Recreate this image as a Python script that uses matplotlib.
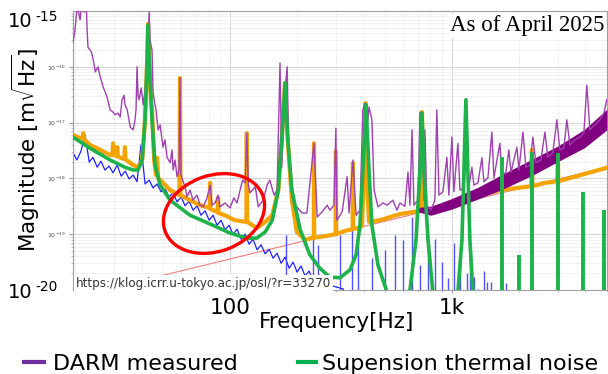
import numpy as np
import matplotlib.pyplot as plt
from matplotlib.patches import Ellipse
from matplotlib.lines import Line2D
from matplotlib.ticker import NullFormatter

# values: frequency [Hz] and log10 of magnitude [m/rtHz]
darm_f = [19.6, 20.0, 20.5, 21.1, 21.5, 22.0, 22.5, 22.7, 22.9, 23.7, 24.2, 24.7, 25.4, 26.0,
          26.8, 27.9, 28.8, 29.7, 30.3, 31.3, 32.0, 32.6, 33.3, 33.6, 34.4, 35.5, 36.6, 37.3,
          37.7, 38.1, 38.5, 38.9, 39.8, 40.6, 41.4, 42.3, 43.2, 43.6, 44.5, 45.0, 45.9, 46.4,
          47.4, 48.4, 49.4, 49.9, 50.9, 52.0, 53.7, 54.8, 55.4, 56.5, 57.7, 58.9, 59.5, 60.1,
          62.7, 64.0, 66.0, 68.1, 71.0, 73.3, 75.6, 78.8, 81.3, 82.9, 85.6, 88.3, 90.1, 94.9,
          100, 104, 107.5, 111, 114, 117, 119, 121, 123, 130, 134, 141, 147, 151, 158, 163,
          168, 171, 177, 181, 184, 190, 196, 200, 211, 222, 239, 247, 260, 274, 282, 294,
          300, 303, 320, 337, 344, 358, 370, 385, 397, 406, 414, 423, 436, 446, 464, 489,
          510, 542, 565, 583, 614, 634, 647, 661, 674, 703, 718, 733, 748, 756, 771, 804,
          838, 855, 874, 911, 949, 969, 1000, 1021, 1064, 1087, 1133, 1169, 1193, 1230,
          1256, 1310, 1365, 1394, 1453, 1514, 1546, 1645, 1680, 1751, 1806, 1845, 1963,
          2004, 2090, 2155, 2249, 2316, 2390, 2518, 2625, 2706, 2850, 2971, 3064, 3195,
          3296, 3400, 3580, 3773, 3933, 4055, 4185, 4406, 4645, 4840, 4990]
darm_exp = [-15.57, -15.34, -14.9, -15.16, -14.8, -15.02, -14.9, -15.34, -15.65, -15.73, -15.88,
            -16.09, -16.00, -16.18, -16.36, -16.54, -16.77, -16.81, -16.86, -16.83, -16.90,
            -16.59, -16.51, -16.68, -16.77, -17.08, -17.13, -16.95, -16.77, -16.00, -16.51,
            -16.59, -16.38, -16.68, -16.42, -16.00, -15.02, -15.52, -15.70, -16.47, -16.68,
            -16.77, -17.13, -17.04, -17.31, -17.44, -17.31, -17.62, -17.72, -17.49, -17.85,
            -17.67, -17.97, -17.85, -16.20, -17.94, -18.15, -18.33, -18.21, -18.39, -18.30,
            -18.48, -18.51, -18.35, -18.12, -18.48, -18.44, -18.30, -18.51, -18.44, -18.53,
            -18.35, -18.44, -18.21, -18.03, -18.08, -17.19, -18.12, -18.26, -18.15, -18.51,
            -18.39, -18.12, -18.03, -18.30, -18.21, -15.93, -17.80, -16.42, -16.00, -17.67,
            -18.30, -18.57, -18.51, -18.62, -18.62, -17.37, -18.69, -18.60, -18.48, -18.57,
            -18.48, -17.10, -18.75, -18.60, -17.97, -18.62, -17.67, -18.66, -18.57, -16.77,
            -16.65, -17.13, -16.72, -16.95, -18.21, -18.51, -18.44, -18.48, -18.39, -18.57,
            -18.44, -18.50, -17.89, -18.48, -17.13, -18.48, -18.39, -16.81, -16.86, -18.39,
            -17.13, -18.48, -18.57, -18.39, -16.77, -18.30, -18.24, -17.62, -18.30, -17.26,
            -18.24, -17.37, -18.21, -18.17, -17.37, -18.15, -17.80, -18.12, -18.08, -17.63,
            -18.06, -17.99, -17.17, -17.99, -17.37, -17.96, -17.89, -17.49, -17.89, -17.44,
            -17.85, -17.17, -17.80, -17.76, -17.26, -17.72, -17.67, -17.17, -17.62, -17.54,
            -16.95, -17.49, -17.46, -16.95, -17.40, -17.31, -17.26, -17.19, -16.33, -17.13,
            -17.04, -16.95, -16.83, -16.59]

# dense part of the measured spectrum above ~700 Hz
band_f = [703, 804, 1000, 1310, 1700, 2316, 3000, 3960, 4990]
band_lo = [-18.60, -18.66, -18.55, -18.37, -18.19, -17.94, -17.70, -17.45, -17.13]
band_hi = [-18.52, -18.50, -18.36, -18.16, -17.92, -17.65, -17.42, -17.12, -16.76]

total_f = [19.6, 21.1, 21.6, 21.8, 22.0, 23.4, 26.0, 28.8, 29.5, 29.7, 29.9, 30.8, 31.0, 31.2,
           32.0, 33.4, 33.6, 33.8, 36.6, 38.5, 40.2, 41.4, 42.3, 42.7, 43.2, 44.0, 44.5, 45.5,
           46.4, 46.9, 47.4, 49.9, 53.7, 59.2, 59.5, 59.8, 66.0, 73.3, 81.0, 81.3, 81.6, 88.0,
           88.3, 88.6, 94.9, 105, 118.5, 119, 119.5, 132, 144, 155, 165, 171, 177, 182, 190,
           200, 218, 238.5, 239, 239.5, 254, 299, 300, 301, 330, 357, 358, 359, 385, 393, 403,
           408, 413, 423, 474, 583, 720, 733, 745, 1000, 1337, 1645, 2280, 2293, 2306, 2625,
           2985, 3001, 3017, 4990]
total_exp = [-17.22, -17.28, -17.28, -17.19, -17.30, -17.40, -17.49, -17.58, -17.58, -17.37,
             -17.58, -17.60, -17.44, -17.60, -17.63, -17.65, -17.44, -17.66, -17.76, -17.80,
             -17.67, -16.95, -15.88, -15.23, -15.88, -16.59, -16.77, -17.67, -17.94, -17.63,
             -17.99, -18.08, -18.21, -18.30, -16.20, -18.30, -18.39, -18.48, -18.53, -18.08,
             -18.55, -18.60, -18.35, -18.62, -18.66, -18.75, -18.78, -17.19, -18.78, -18.89,
             -18.78, -18.66, -18.21, -17.31, -16.29, -17.31, -18.39, -18.96, -19.10, -19.06,
             -17.37, -19.06, -19.05, -19.00, -17.51, -19.00, -18.94, -18.91, -17.72, -18.90,
             -18.89, -18.84, -17.85, -16.65, -17.85, -18.78, -18.75, -18.64, -18.58, -16.81,
             -18.58, -18.44, -18.30, -18.21, -18.14, -17.49, -18.14, -18.08, -18.05, -17.53,
             -18.05, -17.81]

susp_f = [19.6, 23.4, 28.8, 33.6, 36.6, 38.5, 40.2, 41.4, 42.3, 42.7, 43.2, 44.5, 45.9, 48.4,
          53.7, 66.0, 83.8, 100, 119, 132, 144, 155, 165, 171, 177, 182, 190, 207, 229, 254,
          282, 313, 347, 370, 385, 397, 410, 423, 436, 464, 510, 583, 647, 689, 718, 733, 748,
          780, 821, 925, 1064, 1110, 1133, 1156, 1180, 1205, 1244]
susp_exp = [-17.26, -17.46, -17.67, -17.80, -17.85, -17.85, -17.67, -16.95, -15.88, -15.25,
            -15.88, -16.95, -17.76, -18.12, -18.39, -18.66, -18.84, -18.98, -19.07, -19.07,
            -18.96, -18.75, -18.21, -17.31, -16.29, -17.31, -18.21, -18.92, -19.37, -19.61,
            -19.77, -19.78, -19.64, -19.37, -18.84, -17.85, -16.68, -17.85, -18.84, -19.55,
            -20.04, -20.3, -20.0, -19.10, -17.85, -16.83, -17.85, -19.10, -20.04, -20.3,
            -20.04, -19.10, -17.85, -16.59, -17.85, -19.10, -20.04]
susp_line_f = [1680, 2004, 2293, 3001, 3890, 4840]
susp_line_exp = [-17.62, -19.37, -17.53, -17.54, -18.24, -18.57]

other_f = [19.6, 20.4, 21.3, 22.2, 23.2, 24.1, 25.2, 26.2, 27.3, 28.5, 29.7, 31.0, 32.3, 33.7,
           35.1, 36.6, 38.1, 39.7, 41.4, 43.2, 45.0, 46.9, 48.9, 51.0, 53.1, 55.4, 57.7, 60.2,
           62.7, 65.4, 68.2, 71.0, 74.0, 77.2, 80.5, 83.9, 87.4, 91.1, 95.0, 99.0, 103.2,
           107.6, 112.2, 116.9, 121.9, 127.0, 132.4, 138.0, 143.9, 150.0, 156.3, 162.9, 169.9,
           177.1, 184.6, 192.4, 200.6, 209.1, 217.9, 227.2, 236.8, 246.9, 257.3, 268.2, 323,
           335]
other_exp = [-17.54, -17.67, -17.51, -17.22, -17.71, -17.62, -17.80, -17.69, -17.85, -17.78,
             -17.90, -17.76, -17.96, -17.87, -18.01, -17.94, -18.06, -17.40, -18.10, -18.03,
             -18.17, -18.10, -18.24, -18.19, -18.33, -18.26, -18.42, -18.33, -18.49, -18.41,
             -18.57, -18.49, -18.66, -18.58, -18.75, -18.66, -18.84, -18.75, -18.92, -18.84,
             -19.00, -18.91, -19.09, -19.00, -19.18, -19.09, -19.28, -19.19, -19.35, -19.27,
             -19.43, -19.34, -19.52, -19.41, -19.61, -19.50, -19.68, -19.57, -19.75, -19.66,
             -19.84, -19.75, -19.95, -19.89, -19.98, -20.1]
other_line_f = [179, 237, 249, 313, 355, 377, 436, 499, 554, 602, 661, 718, 780, 838, 901,
                959, 1021, 1087, 1169, 1205, 1256, 1310, 1394, 1439, 1500, 1751]
other_line_exp = [-19.01, -18.98, -19.19, -19.01, -18.48, -19.10, -19.43, -19.28, -19.01,
                  -19.10, -18.69, -19.55, -18.98, -19.09, -19.50, -19.78, -19.16, -19.52,
                  -19.70, -19.41, -19.77, -19.98, -19.66, -19.86, -19.86, -19.87]

shot_f = [20, 5000]
shot_exp = [-20.12, -17.80]

fig = plt.figure(figsize=(6.08, 3.74), dpi=100)
ax = fig.add_axes([73/608, 84/374, 534/608, 279/374])
ax.set_xscale('log')
ax.set_yscale('log')

ax.plot(shot_f, 10.0**np.array(shot_exp), color='#f08080', lw=0.8, zorder=2)
ax.plot(other_f, 10.0**np.array(other_exp), color='#2020ff', lw=0.9, zorder=2)
ax.vlines(other_line_f, 1e-21, 10.0**np.array(other_line_exp), color='#5050ff', lw=1.0, zorder=2)
ax.plot(total_f, 10.0**np.array(total_exp), color='#f5a300', lw=3.0, zorder=3)
ax.fill_between(band_f, 10.0**np.array(band_lo), 10.0**np.array(band_hi),
                color='#800080', lw=0, zorder=4)
ax.plot(darm_f, 10.0**np.array(darm_exp), color='#a040b2', lw=1.0, zorder=4)
ax.plot(susp_f, 10.0**np.array(susp_exp), color='#1db34a', lw=2.6, zorder=5)
ax.vlines(susp_line_f, 1e-21, 10.0**np.array(susp_line_exp), color='#1db34a', lw=2.8, zorder=5)

ax.set_xlim(19.6, 5000)
ax.set_ylim(1e-20, 1e-15)
ax.grid(True, which='major', color='#d4d4d4', lw=0.7)
ax.grid(True, which='minor', color='#ececec', lw=0.5)
for s in ax.spines.values():
    s.set_color('#a0a0a0')
    s.set_linewidth(0.8)

ax.set_xticks([100, 1000], ['100', '1k'])
ax.xaxis.set_minor_formatter(NullFormatter())
ax.tick_params(axis='x', which='major', labelsize=15.5, pad=4, length=2, color='#a0a0a0')
ax.tick_params(axis='x', which='minor', length=1.5, color='#b0b0b0')
ax.set_yticks([1e-19, 1e-18, 1e-17, 1e-16],
              [r'$10^{-19}$', r'$10^{-18}$', r'$10^{-17}$', r'$10^{-16}$'])
ax.yaxis.set_minor_formatter(NullFormatter())
ax.tick_params(axis='y', which='major', labelsize=4.5, labelcolor='#444444', pad=2,
               length=3, color='#a0a0a0')
ax.tick_params(axis='y', which='minor', length=1.5, color='#b0b0b0')

# big axis end labels
fig.text(8/608, 1 - 27/374, '10', fontsize=14, va='baseline')
fig.text(35/608, 1 - 21/374, '-15', fontsize=10, va='baseline')
fig.text(8/608, 1 - 298/374, '10', fontsize=14, va='baseline')
fig.text(35/608, 1 - 291/374, '-20', fontsize=10, va='baseline')

fig.text(26/608, 1 - 150/374, r'Magnitude [m$\sqrt{\mathrm{Hz}}$]', fontsize=15.5,
         rotation=90, ha='center', va='center')
fig.text(259/608, 1 - 328/374, 'Frequency[Hz]', fontsize=15.5, va='baseline')

ax.text(76/608 - 73/608, 0, 'https://klog.icrr.u-tokyo.ac.jp/osl/?r=33270', fontsize=8.6,
        color='#333333', transform=ax.transAxes, va='bottom', zorder=6,
        bbox=dict(facecolor='white', edgecolor='none', pad=1.5))
ax.text(0.995, 0.985, 'As of April 2025', fontsize=16.5, family='Liberation Serif',
        ha='right', va='top', transform=ax.transAxes, zorder=6,
        bbox=dict(facecolor='white', edgecolor='none', pad=1))

fig.add_artist(Ellipse((2.14, 1.605), 1.04, 0.76, angle=20, transform=fig.dpi_scale_trans,
                       fill=False, ec='#ff0000', lw=2.4))

# legend below the chart
fig.add_artist(Line2D([24/608, 44/608], [12/374, 12/374], color='#7030a0', lw=3))
fig.text(53/608, 4/374, 'DARM measured', fontsize=16, va='baseline')
fig.add_artist(Line2D([298/608, 316/608], [12/374, 12/374], color='#00b050', lw=3))
fig.text(322/608, 4/374, 'Supension thermal noise', fontsize=16, va='baseline')

fig.savefig('out.png', dpi=100)
